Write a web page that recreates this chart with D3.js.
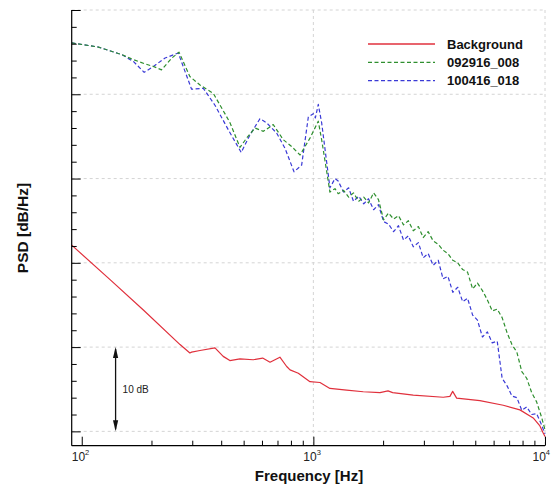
<!DOCTYPE html>
<html>
<head>
<meta charset="utf-8">
<script src="https://cdn.jsdelivr.net/npm/d3@7"></script>
<style>
  html, body { margin: 0; padding: 0; background: #fff; }
  svg { display: block; font-family: "Liberation Sans", Arial, sans-serif; }
</style>
</head>
<body>
<svg id="chart" width="551" height="487"></svg>
<script>
// Background PSD: [frequency Hz, level dB]
const backgroundData = [
  [90.5, 32.1], [132.5, 28.0], [184.5, 24.4], [265.7, 20.3], [293, 19.3], [298, 19.4],
  [324, 19.6], [376, 19.9], [408, 18.9], [436, 18.4], [482, 18.6], [550, 18.5],
  [604, 18.7], [650, 18.2], [717, 18.8], [767, 17.7], [793, 17.3], [861, 16.9],
  [967, 15.9], [1068, 15.8], [1179, 15.1], [1392, 14.9], [1642, 14.7], [1939, 14.6],
  [2100, 14.8], [2200, 14.6], [2699, 14.3], [3636, 14.05], [3886, 14.15], [3994, 14.75],
  [4155, 13.95], [5236, 13.65], [6603, 13.1], [7793, 12.55], [8893, 11.6], [9507, 10.65],
  [9822, 9.8], [10000, 9.4]
];

// Run 092916_008
const run092916Data = [
  [90.5, 56.1], [118, 55.6], [149, 54.7], [164, 54.2], [188, 53.6], [204, 53.3],
  [221, 52.9], [245, 54.3], [263, 55.0], [293, 52.1], [324, 51.1], [370, 50.1],
  [415, 47.7], [437, 46.6], [482, 43.7], [515, 44.8], [560, 46.0], [608, 45.6],
  [671, 46.4], [742, 44.6], [806, 43.8], [876, 42.8], [967, 44.8], [1050, 46.8],
  [1086, 44.6], [1179, 38.4], [1240, 38.8],
  [1280, 38.2], [1350, 38.6], [1420, 37.8], [1490, 38.3], [1570, 37.3], [1650, 37.8],
  [1730, 37.1], [1820, 38.3], [1910, 37.5], [2010, 35.1], [2110, 35.9], [2220, 35.2],
  [2330, 35.6], [2450, 34.5], [2570, 35.0], [2700, 33.8], [2840, 34.3], [2980, 33.0],
  [3130, 33.7], [3290, 32.6], [3460, 32.2], [3630, 31.5], [3810, 31.1], [4000, 30.3],
  [4200, 30.0], [4410, 29.2], [4630, 28.9], [4870, 26.9], [5110, 27.6], [5370, 26.7],
  [5640, 25.6], [5920, 24.3], [6220, 24.5], [6530, 23.5], [6860, 21.7], [7200, 20.3],
  [7560, 19.4], [7940, 17.1], [8340, 16.3], [8760, 14.6], [9200, 13.5], [9660, 11.7],
  [10000, 10.2]
];

// Run 100416_018
const run100416Data = [
  [90.5, 56.1], [118, 55.6], [149, 54.7], [167, 53.9], [186, 52.6], [204, 53.3],
  [229, 54.3], [261, 54.9], [298, 50.6], [335, 50.7], [376, 48.7], [433, 45.6],
  [488, 43.1], [533, 45.2], [588, 47.1], [629, 46.6], [694, 45.4], [754, 43.6],
  [825, 40.8], [890, 41.6], [951, 47.3], [999, 47.7], [1020, 47.2], [1050, 48.8],
  [1086, 46.6], [1179, 38.9], [1240, 40.0],
  [1280, 39.7], [1350, 38.4], [1420, 38.9], [1490, 37.3], [1570, 37.9], [1650, 37.0],
  [1730, 37.6], [1820, 36.3], [1910, 36.9], [2010, 34.9], [2110, 34.6], [2220, 33.7],
  [2330, 34.4], [2450, 32.7], [2570, 33.2], [2700, 31.9], [2840, 32.4], [2980, 30.6],
  [3130, 31.1], [3290, 29.7], [3460, 30.3], [3630, 28.1], [3810, 28.4], [4000, 26.5],
  [4200, 27.1], [4410, 25.4], [4630, 25.8], [4870, 23.8], [5110, 23.2], [5370, 21.2],
  [5640, 21.8], [5920, 20.5], [6220, 20.7], [6530, 16.3], [6860, 15.4], [7200, 14.2],
  [7560, 14.0], [7940, 12.5], [8340, 12.9], [8760, 12.0], [9200, 12.1], [9660, 10.8],
  [10000, 9.7]
];

const seriesNames = ["Background", "092916_008", "100416_018"];
const seriesColors = ["#e0303c", "#2f8f2f", "#3a3ad6"];
const xMajorTicks = [100, 1000, 10000];
const xTickExponents = ["2", "3", "4"];
const yMajorTicks = [60, 50, 40, 30, 20, 10];
const scaleBar = { freq: 140, top: 20, bottom: 10, label: "10 dB" };

const svg = d3.select("#chart");
const plot = { left: 71.7, right: 545, top: 10, bottom: 445.7 };
const width = 551;

const x = d3.scaleLog().domain([90.5, 10000]).range([plot.left, plot.right]);
const y = d3.scaleLinear().domain([8.3, 60]).range([plot.bottom, plot.top]);

// grid lines
const grid = svg.append("g");
grid.selectAll("line.h").data(yMajorTicks).join("line")
  .attr("x1", plot.left).attr("x2", plot.right)
  .attr("y1", d => y(d)).attr("y2", d => y(d))
  .attr("stroke", "#d4d4d4").attr("stroke-width", 1).attr("stroke-dasharray", "3,3");
grid.selectAll("line.v").data([1000, 10000]).join("line")
  .attr("x1", d => x(d)).attr("x2", d => x(d))
  .attr("y1", plot.top).attr("y2", plot.bottom)
  .attr("stroke", "#d4d4d4").attr("stroke-width", 1).attr("stroke-dasharray", "3,3");

// clip curves to the plot area
svg.append("clipPath").attr("id", "plotClip").append("rect")
  .attr("x", plot.left).attr("y", plot.top)
  .attr("width", plot.right - plot.left + 1).attr("height", plot.bottom - plot.top);

const line = d3.line().x(d => x(d[0])).y(d => y(d[1])).curve(d3.curveLinear);
const curves = svg.append("g").attr("clip-path", "url(#plotClip)");
const allSeries = [backgroundData, run092916Data, run100416Data];
const dashes = [null, "4,2.5", "4,2.5"];
[2, 1, 0].forEach(i => {
  curves.append("path").datum(allSeries[i])
    .attr("d", line).attr("fill", "none")
    .attr("stroke", seriesColors[i]).attr("stroke-width", 1.2)
    .attr("stroke-dasharray", dashes[i])
    .attr("stroke-linejoin", "round");
});

// axes: ticks point into the plot
const yMinor = d3.range(10, 61, 2);
const yAxis = d3.axisRight(y).tickValues(yMinor).tickFormat("")
  .tickSizeOuter(0).tickSizeInner(5);
const yg = svg.append("g").attr("transform", `translate(${plot.left},0)`).call(yAxis);
yg.selectAll(".tick line").attr("x2", d => (d % 10 === 0 ? 9 : 5)).attr("stroke", "#000");
yg.select(".domain").attr("d", `M0,${plot.top}V${plot.bottom}`).attr("stroke", "#000").attr("stroke-width", 1.2);

const xMinor = [];
[100, 1000].forEach(dec => { for (let k = 1; k <= 9; k++) xMinor.push(dec * k); });
xMinor.push(10000);
const xAxis = d3.axisTop(x).tickValues(xMinor).tickFormat("").tickSizeOuter(0).tickSizeInner(5);
const xg = svg.append("g").attr("transform", `translate(0,${plot.bottom})`).call(xAxis);
xg.selectAll(".tick line").attr("y2", d => (xMajorTicks.includes(d) ? -9 : -5)).attr("stroke", "#000");
xg.select(".domain").attr("d", `M${plot.left},0H${plot.right}`).attr("stroke", "#000").attr("stroke-width", 1.2);

// x tick labels (powers of ten); the last one is kept inside the page edge
xMajorTicks.forEach((v, i) => {
  const t = svg.append("text")
    .attr("x", x(v) - 10).attr("y", 461)
    .attr("text-anchor", "start")
    .attr("font-size", 12).attr("fill", "#222");
  t.append("tspan").text("10");
  t.append("tspan").attr("dy", -6).attr("font-size", 7.5).text(xTickExponents[i]);
  const bb = t.node().getBBox();
  if (bb.x + bb.width > width - 1) t.attr("x", width - 1 - bb.width);
});

// axis titles
svg.append("text").attr("x", 309).attr("y", 481)
  .attr("text-anchor", "middle").attr("font-weight", "bold").attr("font-size", 15)
  .attr("fill", "#111").text("Frequency [Hz]");
svg.append("text").attr("transform", "translate(28,228) rotate(-90)")
  .attr("text-anchor", "middle").attr("font-weight", "bold").attr("font-size", 15.5)
  .attr("fill", "#111").text("PSD [dB/Hz]");

// 10 dB scale arrow
const ax = x(scaleBar.freq);
const yTop = y(scaleBar.top), yBot = y(scaleBar.bottom);
svg.append("line").attr("x1", ax).attr("x2", ax).attr("y1", yTop + 2).attr("y2", yBot - 2)
  .attr("stroke", "#111").attr("stroke-width", 1.3);
svg.append("path").attr("d", `M${ax},${yTop} L${ax - 2.6},${yTop + 11} L${ax + 2.6},${yTop + 11} Z`).attr("fill", "#111");
svg.append("path").attr("d", `M${ax},${yBot} L${ax - 2.6},${yBot - 11} L${ax + 2.6},${yBot - 11} Z`).attr("fill", "#111");
svg.append("text").attr("x", ax + 7).attr("y", (yTop + yBot) / 2 + 3.5)
  .attr("font-size", 10).attr("fill", "#222").text(scaleBar.label);

// legend
const legend = svg.append("g");
seriesNames.forEach((name, i) => {
  const ly = 44 + i * 18.3;
  legend.append("line").attr("x1", 368).attr("x2", 435).attr("y1", ly).attr("y2", ly)
    .attr("stroke", seriesColors[i]).attr("stroke-width", i === 0 ? 1.6 : 1.2)
    .attr("stroke-dasharray", dashes[i]);
  legend.append("text").attr("x", 447).attr("y", ly + 4.5)
    .attr("font-weight", "bold").attr("font-size", 13).attr("fill", "#111").text(name);
});
</script>
</body>
</html>
